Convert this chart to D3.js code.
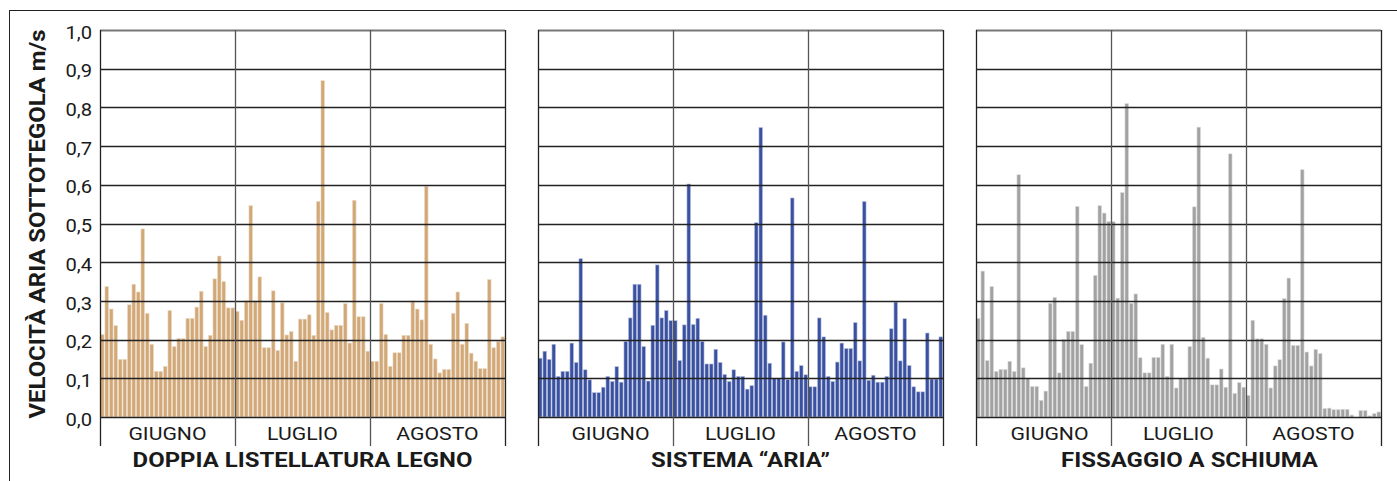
<!DOCTYPE html>
<html>
<head>
<meta charset="utf-8">
<script src="https://cdn.jsdelivr.net/npm/d3@7"></script>
<style>
  html, body { margin: 0; padding: 0; background: #fff; }
  svg { display: block; }
  text { font-family: Roboto, "Noto Sans", sans-serif; fill: #1a1a1a; }
</style>
</head>
<body>
<svg id="chart" width="1397" height="481"></svg>
<script>
// Months shown on each panel (30 daily readings per month)
const months = ["GIUGNO", "LUGLIO", "AGOSTO"];

// Y axis ticks (air velocity under the roof tiles, m/s)
const yTicks = [0, 0.1, 0.2, 0.3, 0.4, 0.5, 0.6, 0.7, 0.8, 0.9, 1.0];
const yTitle = "VELOCITÀ ARIA SOTTOTEGOLA m/s";

// Panel titles
const titles = ["DOPPIA LISTELLATURA LEGNO", "SISTEMA “ARIA”", "FISSAGGIO A SCHIUMA"];

// Daily values — double wooden battens
const doppiaListellatura = [
  0.213, 0.337, 0.279, 0.236, 0.149, 0.149, 0.290, 0.343, 0.323, 0.486,
  0.268, 0.188, 0.118, 0.118, 0.131, 0.275, 0.182, 0.203, 0.203, 0.255,
  0.255, 0.284, 0.325, 0.182, 0.211, 0.357, 0.416, 0.350, 0.282, 0.282,
  0.273, 0.250, 0.300, 0.546, 0.300, 0.362, 0.179, 0.179, 0.326, 0.172,
  0.295, 0.212, 0.221, 0.144, 0.253, 0.253, 0.264, 0.211, 0.557, 0.869,
  0.270, 0.225, 0.237, 0.237, 0.293, 0.191, 0.560, 0.259, 0.259, 0.170,
  0.144, 0.144, 0.293, 0.213, 0.131, 0.166, 0.166, 0.211, 0.211, 0.300,
  0.279, 0.251, 0.596, 0.188, 0.150, 0.114, 0.123, 0.123, 0.268, 0.323,
  0.188, 0.242, 0.165, 0.144, 0.125, 0.125, 0.355, 0.179, 0.195, 0.207
];

// Daily values — "ARIA" system
const sistemaAria = [
  0.152, 0.170, 0.149, 0.188, 0.105, 0.118, 0.118, 0.191, 0.141, 0.409,
  0.122, 0.096, 0.063, 0.063, 0.077, 0.105, 0.092, 0.130, 0.090, 0.195,
  0.256, 0.343, 0.343, 0.182, 0.093, 0.237, 0.393, 0.256, 0.275, 0.249,
  0.249, 0.146, 0.238, 0.602, 0.239, 0.255, 0.195, 0.137, 0.137, 0.175,
  0.141, 0.110, 0.092, 0.122, 0.105, 0.105, 0.072, 0.081, 0.502, 0.748,
  0.263, 0.139, 0.100, 0.100, 0.194, 0.097, 0.566, 0.118, 0.133, 0.109,
  0.078, 0.078, 0.256, 0.207, 0.105, 0.092, 0.142, 0.191, 0.177, 0.177,
  0.244, 0.145, 0.557, 0.095, 0.108, 0.090, 0.090, 0.105, 0.228, 0.297,
  0.145, 0.254, 0.133, 0.078, 0.065, 0.065, 0.217, 0.098, 0.098, 0.207
];

// Daily values — foam fixing
const fissaggioSchiuma = [
  0.255, 0.377, 0.146, 0.337, 0.118, 0.123, 0.123, 0.144, 0.118, 0.626,
  0.127, 0.100, 0.079, 0.079, 0.043, 0.067, 0.294, 0.309, 0.114, 0.200,
  0.221, 0.221, 0.544, 0.187, 0.079, 0.139, 0.366, 0.546, 0.527, 0.505,
  0.505, 0.307, 0.580, 0.810, 0.294, 0.318, 0.153, 0.114, 0.114, 0.154,
  0.154, 0.188, 0.105, 0.188, 0.075, 0.100, 0.100, 0.182, 0.543, 0.749,
  0.206, 0.152, 0.083, 0.083, 0.124, 0.077, 0.680, 0.061, 0.089, 0.077,
  0.056, 0.250, 0.202, 0.202, 0.188, 0.075, 0.132, 0.148, 0.306, 0.359,
  0.185, 0.185, 0.639, 0.168, 0.132, 0.175, 0.164, 0.022, 0.023, 0.019,
  0.019, 0.020, 0.020, 0.005, 0.000, 0.017, 0.017, 0.003, 0.009, 0.013
];

const series = [doppiaListellatura, sistemaAria, fissaggioSchiuma];
const colors = ["#d3a878", "#3a50a0", "#a2a2a2"];
const edgeColors = ["#ecdcc8", "#b9c3e0", "#dedede"];

const svg = d3.select("#chart");

// Outer frame
svg.append("rect")
  .attr("x", 9.5).attr("y", 10.5)
  .attr("width", 1400).attr("height", 500)
  .attr("fill", "none").attr("stroke", "#222").attr("stroke-width", 1);

const panelX = [100, 538, 976];
const panelW = 405;
const plotTop = 30, plotBottom = 417, lineBottom = 446;
// Small horizontal nudges for the first month label and the title of each panel
const firstMonthNudge = [0, 5, 6];
const titleNudge = [0, 0, 11];

const y = d3.scaleLinear().domain([0, 1]).range([plotBottom, plotTop]);

// Text is set slightly wide (horizontal stretch around its anchor point)
function wideText(sel, x, yPos, sx) {
  return sel.attr("x", 0).attr("y", 0)
    .attr("transform", `translate(${x},${yPos}) scale(${sx},1)`);
}

series.forEach((vals, p) => {
  const g = svg.append("g").attr("transform", `translate(${panelX[p]},0)`);

  const days = d3.range(vals.length);
  const x = d3.scaleBand().domain(days).range([0, panelW]).paddingInner(0.2).paddingOuter(0.1);
  const xm = d3.scaleBand().domain(months).range([0, panelW]);

  // Bars
  g.append("g").selectAll("rect")
    .data(vals)
    .join("rect")
    .attr("x", (d, i) => x(i))
    .attr("width", x.bandwidth())
    .attr("y", d => y(d))
    .attr("height", d => plotBottom - y(d))
    .attr("fill", colors[p])
    .attr("stroke", edgeColors[p])
    .attr("stroke-width", 0.6);

  // Horizontal gridlines (drawn above bars)
  g.append("g").selectAll("line")
    .data(yTicks)
    .join("line")
    .attr("x1", 0).attr("x2", panelW)
    .attr("y1", d => Math.round(y(d)) + 0.5)
    .attr("y2", d => Math.round(y(d)) + 0.5)
    .attr("stroke", d => d === 1 ? "#777" : "#222")
    .attr("stroke-width", d => d === 1 ? 2 : 1.3);

  // Month separators and panel edges
  const edges = months.map(m => xm(m)).concat([panelW]);
  g.append("g").selectAll("line")
    .data(edges)
    .join("line")
    .attr("x1", d => Math.round(d) + 0.5).attr("x2", d => Math.round(d) + 0.5)
    .attr("y1", plotTop).attr("y2", lineBottom)
    .attr("stroke", (d, i) => (i === 0 || i === edges.length - 1) ? "#222" : "#555")
    .attr("stroke-width", 1.3);

  // Month labels
  g.append("g").selectAll("text")
    .data(months)
    .join("text")
    .each(function (d, i) {
      const cx = xm(d) + xm.bandwidth() / 2 + (i === 0 ? firstMonthNudge[p] : 0);
      wideText(d3.select(this), cx, 439.5, 1.18);
    })
    .attr("text-anchor", "middle")
    .attr("font-size", 18)
    .text(d => d);

  // Panel title
  wideText(g.append("text"), panelW / 2 + titleNudge[p], 467, 1.14)
    .attr("text-anchor", "middle")
    .attr("font-size", 21)
    .attr("font-weight", "bold")
    .text(titles[p]);

  // Y axis on the first panel only
  if (p === 0) {
    const axis = d3.axisLeft(y)
      .tickValues(yTicks)
      .tickSize(0)
      .tickPadding(7)
      .tickFormat(d => d3.format(".1f")(d).replace(".", ","));
    const ag = g.append("g").call(axis);
    ag.select(".domain").remove();
    ag.selectAll("text")
      .attr("dy", "0.45em")
      .attr("transform", "scale(1.12,1)")
      .attr("font-size", 18)
      .attr("font-family", "Roboto, sans-serif")
      .attr("fill", "#1a1a1a");
  }
});

// Y axis title
svg.append("text")
  .attr("transform", `translate(45, 224) rotate(-90) scale(1.11,1)`)
  .attr("text-anchor", "middle")
  .attr("font-size", 21.5)
  .attr("font-weight", "bold")
  .text(yTitle);
</script>
</body>
</html>
